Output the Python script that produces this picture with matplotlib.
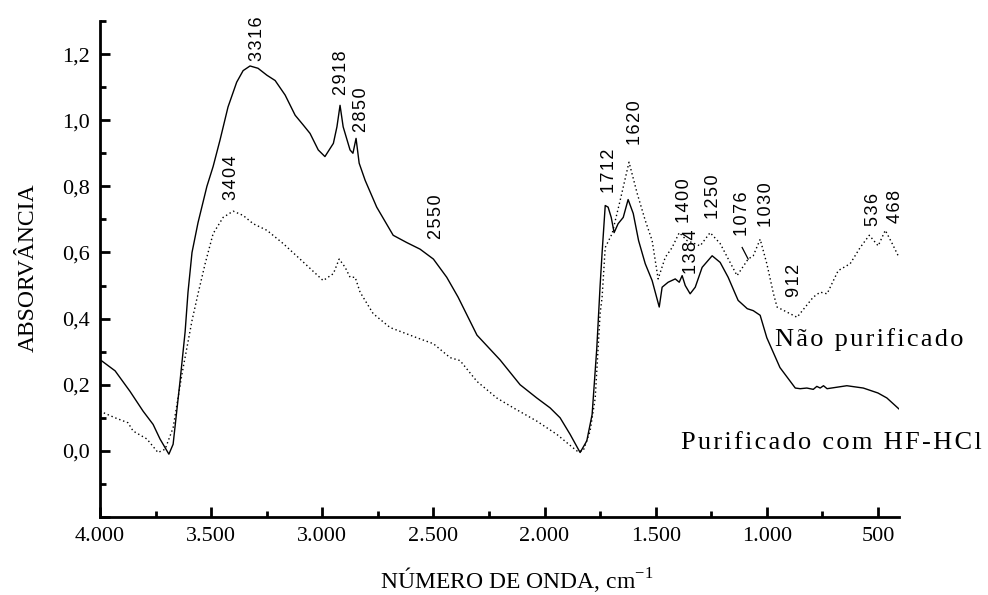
import matplotlib.pyplot as plt
from matplotlib.ticker import FuncFormatter, MultipleLocator

# espectros FTIR (numero de onda, absorvancia)
solid_x = [4000, 3932, 3865, 3806, 3761, 3730, 3690, 3671, 3640, 3617, 3604, 3586,
           3559, 3519, 3491, 3460, 3424, 3385, 3356, 3325, 3289, 3249, 3212, 3167,
           3122, 3085, 3055, 3018, 2988, 2950, 2934, 2920, 2906, 2875, 2862, 2848,
           2834, 2807, 2755, 2681, 2620, 2560, 2500, 2440, 2389, 2304, 2200, 2110,
           2035, 1975, 1930, 1885, 1840, 1810, 1786, 1765, 1750, 1741, 1727, 1714,
           1700, 1687, 1669, 1646, 1624, 1601, 1577, 1547, 1516, 1494, 1484, 1471,
           1444, 1412, 1394, 1381, 1367, 1345, 1322, 1291, 1246, 1210, 1174, 1142,
           1129, 1088, 1061, 1030, 1000, 941, 872, 850, 820, 791, 775, 760, 745,
           729, 640, 566, 500, 460, 406]
solid_y = [0.276, 0.242, 0.18, 0.12, 0.08, 0.036, -0.01, 0.02, 0.21, 0.36, 0.48, 0.60,
           0.69, 0.80, 0.86, 0.94, 1.04, 1.115, 1.15, 1.164, 1.157, 1.136, 1.12, 1.076,
           1.015, 0.985, 0.96, 0.91, 0.89, 0.93, 0.98, 1.045, 0.98, 0.91, 0.90, 0.945,
           0.87, 0.818, 0.737, 0.652, 0.63, 0.61, 0.58, 0.525, 0.465, 0.35, 0.275, 0.20,
           0.16, 0.13, 0.10, 0.05, -0.005, 0.03, 0.11, 0.31, 0.50, 0.60, 0.742, 0.737,
           0.706, 0.66, 0.687, 0.706, 0.76, 0.718, 0.636, 0.566, 0.515, 0.46, 0.435, 0.495,
           0.51, 0.52, 0.51, 0.53, 0.50, 0.475, 0.495, 0.555, 0.59, 0.57, 0.525, 0.475,
           0.455, 0.43, 0.424, 0.41, 0.342, 0.252, 0.19, 0.188, 0.19, 0.186, 0.195, 0.19,
           0.197, 0.188, 0.197, 0.19, 0.175, 0.16, 0.127]

dot_x = [4000, 3932, 3874, 3851, 3789, 3739, 3707, 3671, 3631, 3586, 3559, 3527,
         3491, 3446, 3401, 3356, 3311, 3249, 3176, 3100, 2996, 2950, 2924, 2897,
         2875, 2852, 2830, 2771, 2695, 2574, 2500, 2425, 2380, 2304, 2215, 2140,
         2035, 1945, 1855, 1826, 1795, 1772, 1750, 1741, 1727, 1696, 1660, 1620,
         1583, 1547, 1516, 1489, 1457, 1426, 1394, 1359, 1300, 1255, 1210, 1134,
         1084, 1061, 1030, 1000, 970, 954, 864, 791, 760, 729, 679, 625, 580, 539,
         499, 467, 436, 409]
dot_y = [0.12, 0.10, 0.085, 0.06, 0.036, -0.005, 0.005, 0.07, 0.233, 0.394, 0.475, 0.566,
         0.657, 0.706, 0.725, 0.712, 0.687, 0.667, 0.627, 0.58, 0.515, 0.536, 0.58, 0.555,
         0.525, 0.525, 0.48, 0.415, 0.373, 0.342, 0.324, 0.282, 0.273, 0.21, 0.16, 0.13,
         0.09, 0.05, 0.0, 0.0, 0.06, 0.16, 0.415, 0.465, 0.615, 0.657, 0.757, 0.873,
         0.778, 0.697, 0.636, 0.52, 0.585, 0.615, 0.66, 0.636, 0.62, 0.66, 0.627, 0.53,
         0.58, 0.59, 0.64, 0.566, 0.475, 0.435, 0.404, 0.465, 0.48, 0.475, 0.545, 0.566,
         0.615, 0.652, 0.62, 0.667, 0.627, 0.59]

# rotulos dos picos
peak_labels = ['3316', '2918', '2850', '3404', '2550', '1712', '1620', '1400', '1384',
               '1250', '1076', '1030', '912', '536', '468']
peak_x = [3293, 2912, 2822, 3410, 2485, 1710, 1592, 1372, 1341, 1241, 1111, 1003, 877, 522, 423]
peak_y = [1.18, 1.076, 0.964, 0.76, 0.64, 0.78, 0.924, 0.69, 0.536, 0.70, 0.65, 0.676,
          0.465, 0.68, 0.69]
leader_x = [1111, 1084]
leader_y = [0.615, 0.58]


def spaced(s):
    # imita o espacamento entre letras do original
    return '\u200a'.join(s)


fig = plt.figure(figsize=(9.88, 5.95), dpi=100)
ax = fig.add_axes([0.1012, 0.1311, 0.8088, 0.8336])

ax.plot(solid_x, solid_y, color='black', lw=1.0)
ax.plot(dot_x, dot_y, color='black', lw=1.0, linestyle=(0, (1, 2)))
ax.plot(leader_x, leader_y, color='black', lw=0.9)

for lab, x, y in zip(peak_labels, peak_x, peak_y):
    ax.text(x, y, spaced(lab), rotation=90, ha='center', va='bottom',
            family='Liberation Sans', fontsize=13)

ax.text(962, 0.318, spaced('Não purificado'), family='Liberation Serif',
        fontsize=19, ha='left', va='baseline')
ax.text(1385, 0.006, spaced('Purificado com HF-HCl'), family='Liberation Serif',
        fontsize=19, ha='left', va='baseline')

ax.set_xlim(4000, 405)
ax.set_ylim(-0.2, 1.3)
ax.xaxis.set_major_locator(MultipleLocator(500))
ax.xaxis.set_minor_locator(MultipleLocator(250))
ax.yaxis.set_major_locator(MultipleLocator(0.2))
ax.yaxis.set_minor_locator(MultipleLocator(0.1))
ax.xaxis.set_major_formatter(FuncFormatter(lambda v, p: f'{int(v):,}'.replace(',', '.')))
ax.yaxis.set_major_formatter(FuncFormatter(lambda v, p: '' if v < -0.05 else f'{v:.1f}'.replace('.', ',')))

for s in ['top', 'right']:
    ax.spines[s].set_visible(False)
for s in ['left', 'bottom']:
    ax.spines[s].set_linewidth(2)
ax.tick_params(which='major', direction='in', length=7, width=2, pad=7)
ax.tick_params(which='minor', direction='in', length=4, width=2)
for lab in ax.get_xticklabels() + ax.get_yticklabels():
    lab.set_family('Liberation Serif')
    lab.set_fontsize(16)

ax.set_xlabel('NÚMERO DE ONDA, cm$^{\\mathregular{-1}}$', family='Liberation Serif', fontsize=17)
ax.set_ylabel('ABSORVÂNCIA', family='Liberation Serif', fontsize=17)
ax.xaxis.set_label_coords(0.522, -0.097)
ax.yaxis.set_label_coords(-0.076, 0.503)

plt.savefig('out.png', dpi=100)
